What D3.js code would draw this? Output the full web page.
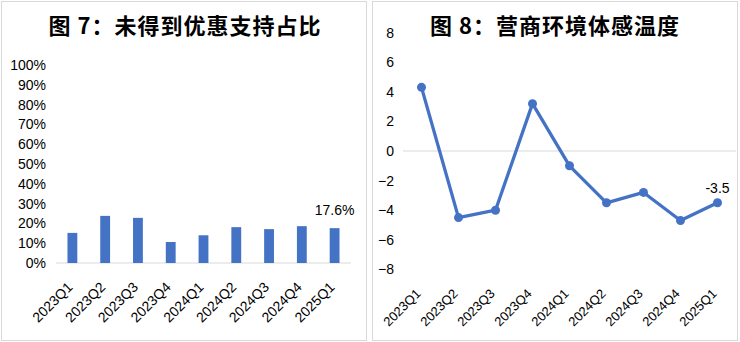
<!DOCTYPE html>
<html>
<head>
<meta charset="utf-8">
<script src="https://cdn.jsdelivr.net/npm/d3@7"></script>
<style>
  html, body { margin: 0; padding: 0; background: #fff; }
  svg { display: block; }
  .tick text { font-family: "Liberation Sans", Arial, sans-serif; fill: #000; }
  .title { font-family: "Noto Sans CJK SC", sans-serif; font-weight: bold; letter-spacing: 1px; }
</style>
</head>
<body>
<svg id="chart" width="740" height="342"></svg>
<script>
// Quarters shared by both panels
const quarters = ["2023Q1", "2023Q2", "2023Q3", "2023Q4", "2024Q1", "2024Q2", "2024Q3", "2024Q4", "2025Q1"];

// 图7: share of firms that received no preferential support (%)
const noSupportShare = [15.2, 23.8, 22.8, 10.6, 14.0, 18.1, 17.1, 18.6, 17.6];
const shareTicks = [0, 10, 20, 30, 40, 50, 60, 70, 80, 90, 100];

// 图8: business environment sentiment index
const sentimentIndex = [4.3, -4.5, -4.0, 3.2, -1.0, -3.5, -2.8, -4.7, -3.5];
const sentimentTicks = [-8, -6, -4, -2, 0, 2, 4, 6, 8];

const titles = ["图 7：未得到优惠支持占比", "图 8：营商环境体感温度"];

const blue = "#4472C4";
const grey = "#d9d9d9";
const svg = d3.select("#chart");

// Panel frames
svg.append("rect").attr("x", 1.5).attr("y", 1.5).attr("width", 365).attr("height", 339)
  .attr("fill", "none").attr("stroke", grey);
svg.append("rect").attr("x", 372.5).attr("y", 1.5).attr("width", 365).attr("height", 339)
  .attr("fill", "none").attr("stroke", grey);

// ---------- Left panel: bar chart ----------
const xL = d3.scaleBand().domain(quarters).range([56, 351]).paddingInner(0.7).paddingOuter(0.35);
const yL = d3.scaleLinear().domain([0, 100]).range([263, 65]);

svg.append("text").attr("class", "title").attr("x", 185).attr("y", 34)
  .attr("text-anchor", "middle").attr("font-size", 22).text(titles[0]);

const yAxisL = svg.append("g").attr("transform", "translate(46,0)")
  .call(d3.axisLeft(yL).tickValues(shareTicks).tickFormat(d => d + "%").tickSize(0).tickPadding(0));
yAxisL.select(".domain").remove();
yAxisL.selectAll("text").attr("font-size", 14);

svg.append("line").attr("x1", 56).attr("x2", 351).attr("y1", yL(0)).attr("y2", yL(0))
  .attr("stroke", grey);

svg.append("g").selectAll("rect").data(noSupportShare).join("rect")
  .attr("x", (d, i) => xL(quarters[i]))
  .attr("width", xL.bandwidth())
  .attr("y", d => yL(d))
  .attr("height", d => yL(0) - yL(d))
  .attr("fill", blue);

const lastShare = noSupportShare[noSupportShare.length - 1];
svg.append("text")
  .attr("x", xL(quarters[quarters.length - 1]) + xL.bandwidth() / 2)
  .attr("y", yL(lastShare) - 13)
  .attr("text-anchor", "middle")
  .attr("font-family", "Liberation Sans, Arial, sans-serif")
  .attr("font-size", 14)
  .text(lastShare.toFixed(1) + "%");

svg.append("g").selectAll("text").data(quarters).join("text")
  .attr("transform", d => `translate(${xL(d) + xL.bandwidth() / 2 + 1},${yL(0) + 25}) rotate(-45)`)
  .attr("text-anchor", "end")
  .attr("font-family", "Liberation Sans, Arial, sans-serif")
  .attr("font-size", 14)
  .text(d => d);

// ---------- Right panel: line chart ----------
const xR = d3.scalePoint().domain(quarters).range([403, 736]).padding(0.5);
const yR = d3.scaleLinear().domain([-8, 8]).range([269.4, 32.6]);

svg.append("text").attr("class", "title").attr("x", 555).attr("y", 34)
  .attr("text-anchor", "middle").attr("font-size", 22).text(titles[1]);

const yAxisR = svg.append("g").attr("transform", "translate(394,0)")
  .call(d3.axisLeft(yR).tickValues(sentimentTicks).tickSize(0).tickPadding(0));
yAxisR.select(".domain").remove();
yAxisR.selectAll("text").attr("font-size", 14);

svg.append("line").attr("x1", 403).attr("x2", 736).attr("y1", yR(0)).attr("y2", yR(0))
  .attr("stroke", grey);

const line = d3.line().x((d, i) => xR(quarters[i])).y(d => yR(d));
svg.append("path").datum(sentimentIndex)
  .attr("d", line)
  .attr("fill", "none")
  .attr("stroke", blue)
  .attr("stroke-width", 3.3)
  .attr("stroke-linejoin", "round");

svg.append("g").selectAll("circle").data(sentimentIndex).join("circle")
  .attr("cx", (d, i) => xR(quarters[i]))
  .attr("cy", d => yR(d))
  .attr("r", 4.5)
  .attr("fill", blue);

const lastSentiment = sentimentIndex[sentimentIndex.length - 1];
svg.append("text")
  .attr("x", xR(quarters[quarters.length - 1]))
  .attr("y", yR(lastSentiment) - 10)
  .attr("text-anchor", "middle")
  .attr("font-family", "Liberation Sans, Arial, sans-serif")
  .attr("font-size", 14)
  .text(lastSentiment.toFixed(1));

svg.append("g").selectAll("text").data(quarters).join("text")
  .attr("transform", d => `translate(${xR(d)},${yR(-8) + 25}) rotate(-45)`)
  .attr("text-anchor", "end")
  .attr("font-family", "Liberation Sans, Arial, sans-serif")
  .attr("font-size", 13)
  .text(d => d);
</script>
</body>
</html>
